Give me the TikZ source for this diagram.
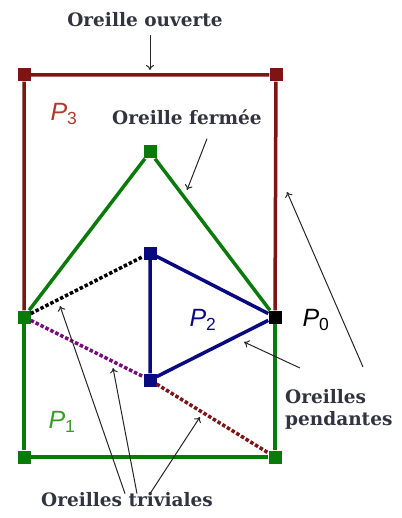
\documentclass[tikz,border=0pt]{standalone}
\usepackage{fontspec}
\setmainfont{DejaVu Serif}
\setsansfont{Liberation Sans}
\usetikzlibrary{arrows.meta}
\definecolor{earmaroon}{HTML}{7F1414}
\definecolor{eargreen}{HTML}{0A7A0A}
\definecolor{earblue}{HTML}{0A0A80}
\definecolor{earpurple}{HTML}{7A0A7A}
\definecolor{labmaroon}{HTML}{B0382C}
\definecolor{labgreen}{HTML}{3C9A28}
\definecolor{labtext}{HTML}{33333F}
\newcommand{\plab}[1]{\sffamily\textit{P}\textsubscript{#1}}
\tikzset{
	vsq/.style={rectangle, minimum size=13pt, inner sep=0pt},
	eline/.style={line width=3.5pt},
	edot/.style={line width=3.5pt, dotted},
	tlab/.style={font=\fontsize{18.5}{22}\selectfont\bfseries, text=labtext, inner sep=1pt, align=left},
	plabel/.style={font=\fontsize{25}{27}\selectfont},
	parr/.style={-{To[length=5pt,width=8pt]}, line width=1pt, draw=black!85}
}
\begin{document}
\begin{tikzpicture}[x=1pt, y=-1pt]
	\useasboundingbox (0,0) rectangle (401,518);
	% vertices
	\node[vsq, fill=earmaroon] (tl) at (24,75) {};
	\node[vsq, fill=earmaroon] (tr) at (276,75) {};
	\node[vsq, fill=eargreen] (apex) at (150,152) {};
	\node[vsq, fill=eargreen] (left) at (24,317) {};
	\node[vsq, fill=black] (p0) at (275,317) {};
	\node[vsq, fill=earblue] (btop) at (150,253) {};
	\node[vsq, fill=earblue] (bbot) at (150,380) {};
	\node[vsq, fill=eargreen] (bl) at (24,457) {};
	\node[vsq, fill=eargreen] (br) at (275,457) {};
	% ears
	\draw[eline, earmaroon] (left) -- (tl) -- (tr) -- (p0);
	\draw[eline, eargreen] (left) -- (apex) -- (p0);
	\draw[eline, eargreen] (left) -- (bl) -- (br) -- (p0);
	\draw[eline, earblue] (btop) -- (bbot) -- (p0) -- (btop);
	\draw[edot, black] (left) -- (btop);
	\draw[edot, earpurple] (left) -- (bbot);
	\draw[edot, earmaroon] (bbot) -- (br);
	% labels
	\node[plabel, text=labmaroon] (lp3) at (64,114) {\plab{3}};
	\node[plabel, text=earblue] (lp2) at (203,320) {\plab{2}};
	\node[plabel, text=black] (lp0) at (316,320) {\plab{0}};
	\node[plabel, text=labgreen] (lp1) at (62,422) {\plab{1}};
	\node[tlab] (ouv) at (145,20) {Oreille ouverte};
	\node[tlab] (ferm) at (187,117) {Oreille fermée};
	\node[tlab, anchor=north west] (pend) at (284,388) {Oreilles\\pendantes};
	\node[tlab] (triv) at (127,500) {Oreilles triviales};
	% arrows
	\coordinate (tipouv) at (150,70);
	\coordinate (tipferm) at (187,190);
	\coordinate (tiprect) at (287,192);
	\coordinate (tippend) at (244,342);
	\coordinate (tiptri1) at (60,306);
	\coordinate (tiptri2) at (113,368);
	\coordinate (tiptri3) at (200,417);
	\draw[parr] ([xshift=5pt, yshift=-7pt]ouv.south) -- (tipouv);
	\draw[parr] ([xshift=20pt, yshift=-13pt]ferm.south) -- (tipferm);
	\draw[parr] ([xshift=79pt, yshift=21pt]pend.north west) -- (tiprect);
	\draw[parr] ([xshift=16pt, yshift=20pt]pend.north west) -- (tippend);
	\draw[parr] ([xshift=-2pt, yshift=-2pt]triv.north) -- (tiptri1);
	\draw[parr] ([xshift=10pt, yshift=-2pt]triv.north) -- (tiptri2);
	\draw[parr] ([xshift=23pt, yshift=-2pt]triv.north) -- (tiptri3);
\end{tikzpicture}
\end{document}
